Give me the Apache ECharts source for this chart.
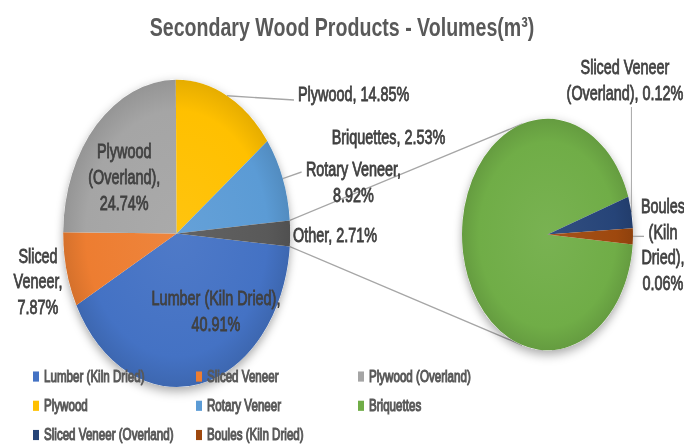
<!DOCTYPE html>
<html>
<head>
<meta charset="utf-8">
<script src="https://cdn.jsdelivr.net/npm/echarts@6/dist/echarts.min.js"></script>
<style>
  html { overflow: hidden; }
  html, body { margin: 0; padding: 0; background: #fff; width: 684px; height: 448px; }
  /* the source is a round Excel pie-of-pie stretched tall, so draw it flat and stretch it the same way */
  #chart { width: 684px; height: 331px; transform: scaleY(1.3535); transform-origin: 0 0; }
</style>
</head>
<body>
<div id="chart"></div>
<script>
// main pie, shares in %
const mainNames = ['Lumber (Kiln Dried)', 'Sliced Veneer', 'Plywood (Overland)', 'Plywood', 'Rotary Veneer', 'Other'];
const mainShares = [40.91, 7.87, 24.74, 14.85, 8.92, 2.71];
// second pie = the "Other" slice split up, shares of the whole total
const otherNames = ['Briquettes', 'Sliced Veneer (Overland)', 'Boules (Kiln Dried)'];
const otherShares = [2.53, 0.12, 0.06];

const mainColors = ['#4472C4', '#ED7D31', '#A5A5A5', '#FFC000', '#5B9BD5', '#595959'];
const otherColors = ['#70AD47', '#264478', '#9E480E'];

// legend columns, read top to bottom
const legendCols = [
  ['Lumber (Kiln Dried)', 'Plywood', 'Sliced Veneer (Overland)'],
  ['Sliced Veneer', 'Rotary Veneer', 'Boules (Kiln Dried)'],
  ['Plywood (Overland)', 'Briquettes']
];

const FONT = "'Liberation Sans', Arial, sans-serif";
const mainPie = { cx: 176.7, cy: 172.5, r: 113.5 };
const subPie = { cx: 547.5, cy: 173.3, r: 85.5 };

// where Excel put each data label (unstretched px), word breaks, leader line kind
const mainSpots = [
  { x: 216, y: 229.8, align: 'center', breaks: [3] },
  { x: 38, y: 208, align: 'center', breaks: [1, 2] },
  { x: 124.2, y: 130.8, align: 'center', breaks: [1, 2] },
  { x: 298, y: 69.5, align: 'left', breaks: [], line: 'left', dy: 4.4 },
  { x: 353.5, y: 134.5, align: 'center', breaks: [2], line: 'left', dy: -7.4 },
  { x: 293, y: 174, align: 'left', breaks: [] }
];
const subSpots = [
  { x: 331.7, y: 101.6, align: 'left', breaks: [] },
  { x: 625, y: 59, align: 'center', breaks: [2], line: 'up' },
  { x: 663, y: 180.8, align: 'center', breaks: [1, 2, 3], line: 'flat', len: 11 }
];

function mix(hex, target, t) {
  const a = parseInt(hex.slice(1), 16);
  const c = [(a >> 16) & 255, (a >> 8) & 255, a & 255].map(v => Math.round(v + (target - v) * t));
  return 'rgb(' + c.join(',') + ')';
}

// soft Excel-like shading, centred on the pie
function shade(color, pie) {
  return {
    type: 'radial', x: pie.cx, y: pie.cy, r: pie.r, global: true,
    colorStops: [
      { offset: 0, color: mix(color, 255, 0.06) },
      { offset: 0.8, color: color },
      { offset: 1, color: mix(color, 0, 0.1) }
    ]
  };
}

function wrapLabel(name, value, breaks) {
  const words = (name + ', ' + value.toFixed(2) + '%').split(' ');
  return words.map((w, i) => (i === 0 ? '' : breaks.includes(i) ? '\n' : ' ') + w).join('');
}

function placeLabels(spots) {
  return function (p) {
    const s = spots[p.dataIndex];
    const out = { x: s.x, y: s.y, align: s.align, verticalAlign: 'middle' };
    const edge = p.labelLinePoints && p.labelLinePoints[0];
    if (s.line && edge) {
      const w = p.labelRect.width, h = p.labelRect.height;
      const left = s.align === 'left' ? s.x : s.x - w / 2;
      if (s.line === 'left') {
        const end = [left - 4, s.y + s.dy];
        out.labelLinePoints = [edge, end, end];
      } else if (s.line === 'up') {
        const bottom = [edge[0], s.y + h / 2 + 1];
        out.labelLinePoints = [edge, bottom, bottom];
      } else {
        const end = [edge[0] + s.len, edge[1]];
        out.labelLinePoints = [edge, end, end];
      }
    }
    return out;
  };
}

function pieData(names, shares, colors, spots, pie) {
  return names.map((n, i) => ({
    name: n,
    value: shares[i],
    itemStyle: { color: shade(colors[i], pie) },
    labelLine: { show: !!spots[i].line }
  }));
}

function pieSeries(names, shares, colors, spots, pie) {
  return {
    type: 'pie',
    center: [pie.cx, pie.cy],
    radius: pie.r,
    // Excel turns both pies so the "Other" slice faces the second pie
    startAngle: -mainShares[5] / 100 * 360 / 2,
    clockwise: true,
    avoidLabelOverlap: false,
    silent: true,
    z: 3,
    label: {
      show: true,
      position: 'outside',
      fontFamily: FONT,
      fontSize: 14.4,
      lineHeight: 19,
      color: '#404040',
      textBorderColor: '#404040',
      textBorderWidth: 0.6,
      formatter: p => wrapLabel(p.name, p.value, spots[p.dataIndex].breaks)
    },
    labelLine: { show: true, length: 6, length2: 6, lineStyle: { color: '#A6A6A6', width: 1 } },
    labelLayout: placeLabels(spots),
    data: pieData(names, shares, colors, spots, pie)
  };
}

// plain disc under each pie that only carries the drop shadow
function shadowDisc(pie, total) {
  return {
    type: 'pie', center: [pie.cx, pie.cy], radius: pie.r, silent: true, z: 1,
    label: { show: false }, labelLine: { show: false },
    itemStyle: { color: '#fff', shadowBlur: 8, shadowOffsetY: 3, shadowColor: 'rgba(0,0,0,0.35)' },
    data: [{ name: '_shadow', value: total }]
  };
}

// series lines from the edges of "Other" to the tangents of the second pie
const half = mainShares[5] / 100 * Math.PI;
function tangent(pt, pie, up) {
  const vx = pt[0] - pie.cx, vy = pt[1] - pie.cy;
  const d = Math.hypot(vx, vy);
  const phi = Math.atan2(vy, vx), a = Math.acos(pie.r / d);
  const c1 = [pie.cx + pie.r * Math.cos(phi + a), pie.cy + pie.r * Math.sin(phi + a)];
  const c2 = [pie.cx + pie.r * Math.cos(phi - a), pie.cy + pie.r * Math.sin(phi - a)];
  return (c1[1] < c2[1]) === up ? c1 : c2;
}
const topStart = [mainPie.cx + mainPie.r * Math.cos(half), mainPie.cy - mainPie.r * Math.sin(half)];
const botStart = [mainPie.cx + mainPie.r * Math.cos(half), mainPie.cy + mainPie.r * Math.sin(half)];
const topEnd = tangent(topStart, subPie, true);
const botEnd = tangent(botStart, subPie, false);

const colorOf = {};
mainNames.forEach((n, i) => { colorOf[n] = mainColors[i]; });
otherNames.forEach((n, i) => { colorOf[n] = otherColors[i]; });

const chart = echarts.init(document.getElementById('chart'), null, { renderer: 'svg' });
chart.setOption({
  animation: false,
  title: {
    text: 'Secondary Wood Products - Volumes(m³)',
    left: 'center',
    top: 5,
    textStyle: { fontFamily: FONT, fontSize: 19.6, fontWeight: 'bold', color: '#595959', lineHeight: 20 }
  },
  legend: legendCols.map((names, i) => ({
    orient: 'vertical',
    left: [33, 196, 358][i],
    top: 270.2,
    padding: 0,
    itemWidth: 6,
    itemHeight: 7.5,
    itemGap: 5.6,
    icon: 'rect',
    selectedMode: false,
    textStyle: {
      fontFamily: FONT, fontSize: 11.6, color: '#595959', lineHeight: 16,
      textBorderColor: '#595959', textBorderWidth: 0.8
    },
    data: names.map(n => ({ name: n, itemStyle: { color: colorOf[n] } }))
  })),
  graphic: [topEnd, botEnd].map((end, i) => ({
    type: 'line',
    silent: true,
    z: 0,
    shape: { x1: (i ? botStart : topStart)[0], y1: (i ? botStart : topStart)[1], x2: end[0], y2: end[1] },
    style: { stroke: '#A6A6A6', lineWidth: 1 }
  })),
  series: [
    shadowDisc(mainPie, 100),
    shadowDisc(subPie, 100),
    pieSeries(mainNames, mainShares, mainColors, mainSpots, mainPie),
    pieSeries(otherNames, otherShares, otherColors, subSpots, subPie)
  ]
});
</script>
</body>
</html>
